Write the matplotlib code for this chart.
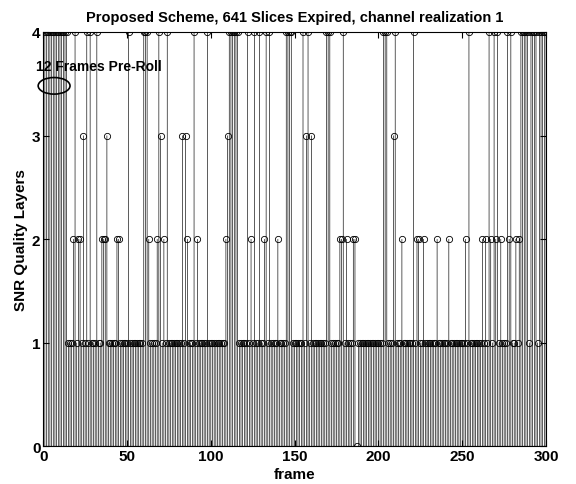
import numpy as np
import matplotlib.pyplot as plt
from matplotlib.patches import Ellipse

plt.rcParams['font.family'] = ['Liberation Sans', 'DejaVu Sans']
plt.rcParams['font.weight'] = 'bold'
plt.rcParams['font.size'] = 10

# SNR quality layers per frame (default 1)
n_frames = 300
frames_4 = (list(range(1, 15)) + [19, 26, 28, 32, 51, 60, 61, 62, 69, 74, 90, 98]
            + list(range(111, 117)) + [122, 126, 129, 133, 135, 145, 146, 147, 148,
            155, 158, 169, 170, 171, 179, 203, 204, 205, 210, 221, 254, 266, 269, 271,
            277, 279, 285, 286, 287, 288, 289, 291, 292, 293, 294, 296, 297, 298, 299, 300])
frames_3 = [24, 38, 70, 83, 85, 110, 157, 160, 209]
frames_2 = [18, 21, 22, 35, 36, 37, 44, 45, 63, 68, 72, 86, 92, 109, 124, 132, 140,
            177, 178, 181, 185, 186, 214, 223, 224, 227, 235, 242, 252, 262, 264,
            267, 270, 273, 278, 282, 284]
frames_0 = [187]

frames = np.arange(1, n_frames + 1)
layers = np.ones(n_frames)
for lvl, lst in [(4, frames_4), (3, frames_3), (2, frames_2), (0, frames_0)]:
    for f in lst:
        layers[f - 1] = lvl

fig = plt.figure(figsize=(5.76, 4.85), dpi=100)
ax = fig.add_axes([0.075, 0.078, 0.873, 0.854])

markerline, stemlines, baseline = ax.stem(frames, layers, linefmt='k-', markerfmt='ko', basefmt='k-')
markerline.set_markerfacecolor('none')
markerline.set_markersize(4.5)
markerline.set_markeredgewidth(0.6)
stemlines.set_linewidth(0.45)
stemlines.set_snap(False)
baseline.set_linewidth(0.8)

ax.set_xlim(0, 300)
ax.set_ylim(0, 4)
ax.set_xticks(range(0, 301, 50))
ax.set_yticks(range(0, 5))
ax.tick_params(direction='in', top=True, right=True, length=4, pad=2, labelsize=11)
for lab in ax.get_xticklabels() + ax.get_yticklabels():
    lab.set_fontweight('bold')

ax.set_title('Proposed Scheme, 641 Slices Expired, channel realization 1', fontweight='bold',
             fontsize=10.5, pad=8)
ax.set_xlabel('frame', fontweight='bold', fontsize=11, labelpad=3)
ax.set_ylabel('SNR Quality Layers', fontweight='bold', fontsize=11, labelpad=3)

ax.text(-4, 3.67, '12 Frames Pre-Roll', fontweight='bold', va='center', ha='left', clip_on=False)
ax.add_patch(Ellipse((6.5, 3.48), 19, 0.16, fill=False, edgecolor='k', linewidth=1.2, clip_on=False))

fig.savefig('out.png', dpi=100)
